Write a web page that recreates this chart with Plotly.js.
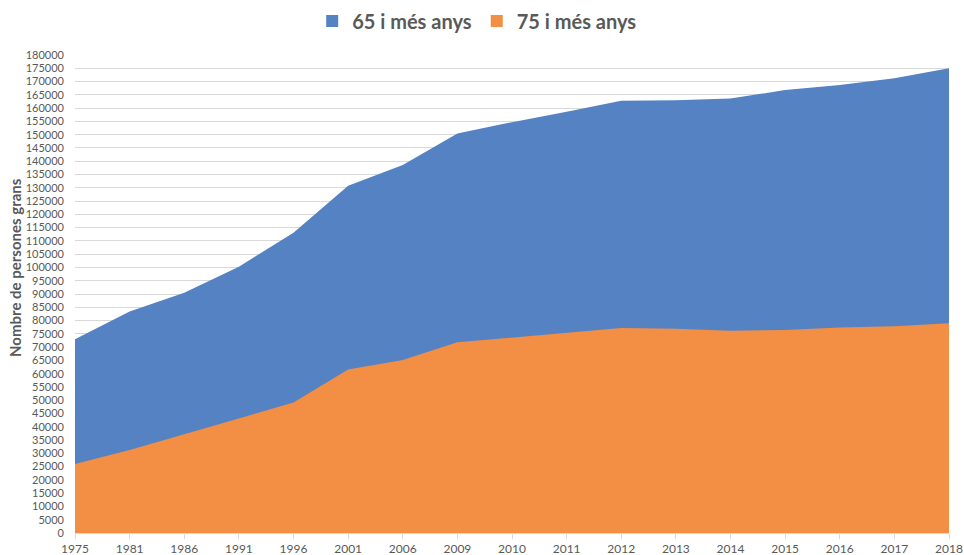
<!DOCTYPE html>
<html>
<head>
<meta charset="utf-8">
<script src="https://cdn.plot.ly/plotly-3.0.1.min.js"></script>
<style>html,body{margin:0;padding:0;background:#fff;}#chart{width:964px;height:555px;}</style>
</head>
<body>
<div id="chart"></div>
<script>
var years = ["1975","1981","1986","1991","1996","2001","2006","2009","2010","2011","2012","2013","2014","2015","2016","2017","2018"];
var age65 = [73000, 83400, 90500, 100300, 113100, 130800, 138600, 150400, 154700, 158600, 162800, 163000, 163600, 166800, 168700, 171200, 175000];
var age75 = [26000, 31300, 37200, 43200, 49100, 61600, 65100, 71800, 73600, 75400, 77200, 76900, 76200, 76400, 77400, 77900, 79000];
var seriesNames = ["65 i més anys", "75 i més anys"];
var seriesColors = ["#5482C3", "#F38F45"];
var yTitle = "Nombre de persones grans";

var font = "Lato, 'Open Sans', 'DejaVu Sans', sans-serif";
var traces = [
  {x: years, y: age65, name: seriesNames[0], type: "scatter", mode: "lines", fill: "tozeroy",
   fillcolor: seriesColors[0], line: {color: seriesColors[0], width: 0}, showlegend: false},
  {x: years, y: age75, name: seriesNames[1], type: "scatter", mode: "lines", fill: "tozeroy",
   fillcolor: seriesColors[1], line: {color: seriesColors[1], width: 0}, showlegend: false},
  {x: [null], y: [null], name: seriesNames[0], type: "scatter", mode: "markers",
   marker: {symbol: "square", size: 12, color: seriesColors[0]}, showlegend: true},
  {x: [null], y: [null], name: seriesNames[1], type: "scatter", mode: "markers",
   marker: {symbol: "square", size: 12, color: seriesColors[1]}, showlegend: true}
];
var layout = {
  width: 964, height: 555,
  margin: {l: 75, r: 15, t: 55, b: 22},
  paper_bgcolor: "#fff", plot_bgcolor: "#fff",
  font: {family: font, color: "#595959", size: 11},
  showlegend: true,
  legend: {orientation: "h", xref: "container", yref: "container", x: 0.495, xanchor: "center",
           y: 1 - 21 / 555, yanchor: "middle",
           font: {size: 20, color: "#595959", family: font, weight: "bold"},
           itemwidth: 30, traceorder: "normal", tracegroupgap: 0},
  xaxis: {type: "category", range: [0, years.length - 1], showgrid: false,
          showline: true, linecolor: "#d9d9d9", linewidth: 1,
          ticks: "outside", ticklen: 5, tickcolor: "#d9d9d9",
          tickfont: {size: 12, color: "#595959"}, fixedrange: true, zeroline: false},
  yaxis: {range: [0, 180000], dtick: 5000, tick0: 0, showgrid: true, gridcolor: "#d9d9d9", gridwidth: 1,
          zeroline: false, showline: false, ticks: "", tickformat: "d", ticklabelstandoff: 10,
          tickfont: {size: 11, color: "#595959"}},
  annotations: [{text: yTitle, textangle: -90, xref: "paper", yref: "paper",
                 x: (15 - 75) / 874, y: (533 - 268) / 478, xanchor: "center", yanchor: "middle",
                 showarrow: false, font: {size: 15, color: "#595959", weight: "bold"}}]
};
Plotly.newPlot("chart", traces, layout, {staticPlot: true});
</script>
</body>
</html>
